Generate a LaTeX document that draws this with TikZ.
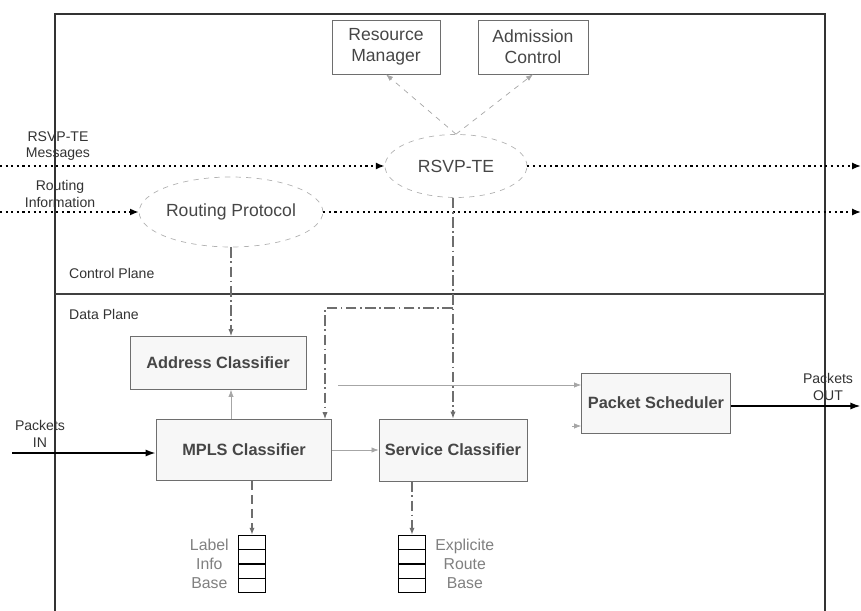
\documentclass[tikz,border=0pt]{standalone}
\usepackage{fontspec}
\setmainfont{Liberation Sans}
\usetikzlibrary{shapes.geometric,arrows.meta,calc}

\definecolor{txtgray}{RGB}{70,70,70}
\definecolor{linegray}{RGB}{110,110,110}

\tikzset{
  blockbox/.style={draw=linegray, rectangle, inner sep=2pt, align=center,
    text=txtgray, font=\fontsize{10}{12}\selectfont},
  classbox/.style={blockbox, fill=gray!6, font=\fontsize{9.3}{11}\selectfont\bfseries},
  protoell/.style={draw=gray!60, ellipse, dashed, inner sep=0pt, text=txtgray,
    font=\fontsize{10}{12}\selectfont},
  smalllbl/.style={align=center, text=black!80, font=\fontsize{8}{9.5}\selectfont},
  baselbl/.style={align=center, text=gray, font=\fontsize{9}{11}\selectfont, inner sep=5pt},
  msgline/.style={dotted, line width=1.2pt, -{Latex[length=5pt,width=4pt]}},
  ctlline/.style={linegray, line width=0.7pt, dash pattern=on 6pt off 2pt on 1pt off 2pt,
    -{Latex[length=4pt,width=3pt]}},
  thinline/.style={gray!70, line width=0.4pt, -{Latex[length=4pt,width=3pt]}},
  pktline/.style={line width=1.6pt, -{Latex[length=6pt,width=4pt]}},
  stackbox/.style={draw, line width=0.8pt, rectangle, minimum width=0.54cm,
    minimum height=1.14cm, inner sep=0pt}
}

\begin{document}
\begin{tikzpicture}[x=0.02cm, y=-0.02cm]
\useasboundingbox (0,0) rectangle (861,611);

% frame and planes
\draw[line width=1pt, black!80] (55,611) -- (55,14) -- (825,14) -- (825,611);
\draw[line width=1.6pt, black!75] (55,294) -- (825,294);
\node[smalllbl, anchor=west] (cplane) at (63,273) {Control Plane};
\node[smalllbl, anchor=west] (dplane) at (63,314) {Data Plane};

% control plane
\node[blockbox, minimum width=2.16cm, minimum height=1.08cm] (resmgr) at (386,47) {Resource\\Manager};
\node[blockbox, minimum width=2.2cm, minimum height=1.08cm] (admctl) at (533,47) {Admission\\Control};
\node[protoell, minimum width=2.84cm, minimum height=1.26cm] (rsvp) at (456,166) {RSVP-TE};
\node[protoell, minimum width=3.24cm, minimum height=1.4cm] (rproto) at (231,212) {Routing Protocol};

\node[smalllbl] (msglbl) at (58,146) {RSVP-TE\\Messages};
\node[smalllbl] (routelbl) at (60,194) {Routing\\Information};

\coordinate (msgin) at (0,166);
\coordinate (msgout) at (861,166);
\coordinate (routein) at (0,212);
\coordinate (routeout) at (861,212);

\draw[msgline] (msgin) -- (rsvp.west);
\draw[msgline] (rsvp.east) -- (msgout);
\draw[msgline] (routein) -- (rproto.west);
\draw[msgline] (rproto.east) -- (routeout);

\draw[thinline, dashed] (rsvp.north) -- (resmgr.south);
\draw[thinline, dashed] (rsvp.north) -- (admctl.south);

% data plane
\node[classbox, minimum width=3.52cm, minimum height=1.06cm] (addrcls) at (218,363) {Address Classifier};
\node[classbox, minimum width=3.5cm, minimum height=1.22cm] (mplscls) at (244,450) {MPLS Classifier};
\node[classbox, minimum width=2.96cm, minimum height=1.24cm] (servcls) at (453,450) {Service Classifier};
\node[classbox, minimum width=2.98cm, minimum height=1.2cm] (pktsch) at (656,403) {Packet Scheduler};

\node[stackbox] (lib) at (252,564) {};
\node[stackbox] (erb) at (412,564) {};
\foreach \s in {lib,erb}
  \foreach \k in {0.25,0.5,0.75}
    \draw[line width=0.8pt] ($(\s.north west)!\k!(\s.south west)$) -- ($(\s.north east)!\k!(\s.south east)$);
\node[baselbl, anchor=east] (liblbl) at (lib.west) {Label\\Info\\Base};
\node[baselbl, anchor=west] (erblbl) at (erb.east) {Explicite\\Route\\Base};

\node[smalllbl] (inlbl) at (40,434) {Packets\\IN};
\node[smalllbl] (outlbl) at (828,387) {Packets\\OUT};

\coordinate (pktin) at (12,453);
\coordinate (pktout) at (861,406);
\coordinate (branch) at (325,308);
\coordinate (fwd) at (338,385);
\coordinate (fwdlow) at (572,426);

\draw[ctlline] (rproto.south) -- (rproto.south |- addrcls.north);
\draw[ctlline] (servcls.north |- rsvp.south) -- (servcls.north);
\draw[ctlline] (servcls.north |- branch) -- (branch) -- (branch |- mplscls.north);
\draw[thinline] (mplscls.north -| rproto.south) -- (addrcls.south -| rproto.south);
\draw[thinline] (mplscls.east) -- (servcls.west);
\draw[thinline] (fwd) -- (fwd -| pktsch.west);
\draw[thinline] (fwdlow) -- (fwdlow -| pktsch.west);
\draw[ctlline, dash pattern=on 5pt off 3pt] (lib.north |- mplscls.south) -- (lib.north);
\draw[ctlline] (erb.north |- servcls.south) -- (erb.north);

\draw[pktline] (pktin) -- (pktin -| mplscls.west);
\draw[pktline] (pktout -| pktsch.east) -- (pktout);

\end{tikzpicture}
\end{document}
